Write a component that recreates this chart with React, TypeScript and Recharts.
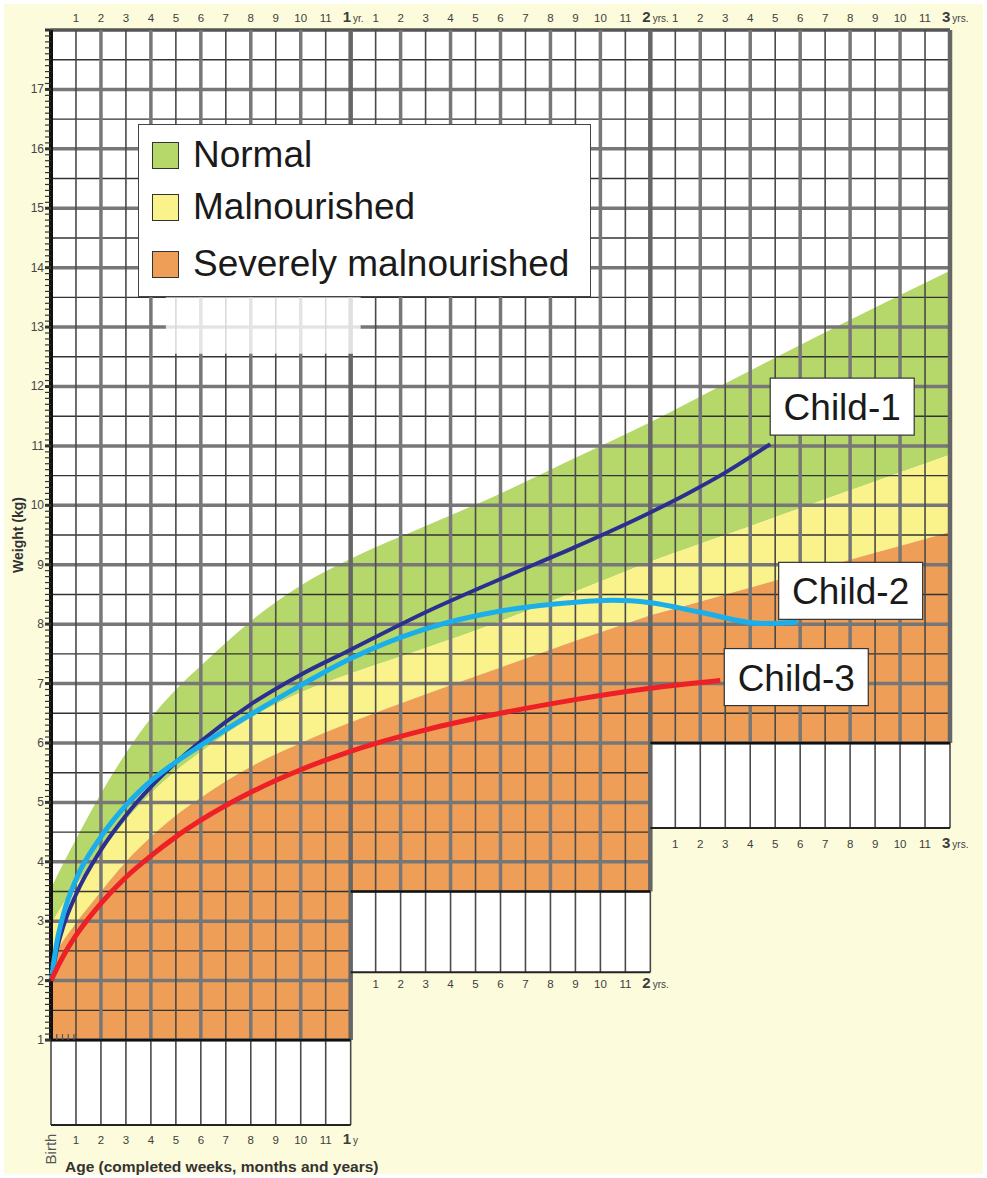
import React from "react";
import {
  ComposedChart,
  Area,
  Line,
  Scatter,
  XAxis,
  YAxis,
  ReferenceLine,
  ReferenceArea,
  Legend,
} from "recharts";

const W = 987;
const H = 1178;
const FONT = "'Liberation Sans', Arial, Helvetica, sans-serif";
const CREAM = "#fcfbdc";
const GREEN = "#b6d86a";
const YELLOW = "#faf28a";
const ORANGE = "#ee9e57";

const BAND_MONTHS = [0, 0.5, 1, 2, 3, 4, 5, 6, 8, 10, 12, 15, 18, 21, 24, 27, 30, 33, 36];
const NORMAL_UPPER = [3.55, 3.98, 4.38, 5.15, 5.83, 6.42, 6.9, 7.3, 8.05, 8.65, 9.1, 9.65, 10.2, 10.8, 11.4, 12.05, 12.7, 13.33, 13.95];
const NORMAL_LOWER = [2.95, 3.3, 3.6, 4.15, 4.7, 5.15, 5.53, 5.85, 6.42, 6.85, 7.17, 7.6, 8.05, 8.55, 9.05, 9.5, 9.95, 10.4, 10.85];
const MAL_LOWER = [2.35, 2.68, 2.97, 3.5, 4.0, 4.42, 4.78, 5.08, 5.6, 6.0, 6.35, 6.82, 7.27, 7.72, 8.15, 8.5, 8.85, 9.2, 9.55];

// the three children plotted on the card
const CHILD1_MONTHS = [0, 0.25, 0.5, 1, 2, 3, 4, 5, 6, 8, 10, 12, 15, 18, 21, 24, 25.5, 27, 28.8];
const CHILD1_KG = [2.0, 2.55, 2.92, 3.45, 4.2, 4.78, 5.26, 5.67, 6.03, 6.65, 7.15, 7.57, 8.2, 8.76, 9.3, 9.88, 10.2, 10.55, 11.03];
const CHILD2_MONTHS = [0, 0.25, 0.5, 1, 2, 3, 4, 5, 6, 8, 10, 12, 15, 18, 21, 22.5, 24, 26, 28.5, 29.9];
const CHILD2_KG = [2.0, 2.68, 3.12, 3.7, 4.42, 4.95, 5.36, 5.68, 5.96, 6.48, 6.97, 7.42, 7.92, 8.22, 8.37, 8.4, 8.36, 8.2, 8.01, 8.03];
const CHILD3_MONTHS = [0, 0.25, 0.5, 1, 2, 3, 4, 5, 6, 8, 10, 12, 15, 18, 21, 24, 26.8];
const CHILD3_KG = [2.0, 2.22, 2.42, 2.76, 3.3, 3.74, 4.1, 4.42, 4.7, 5.17, 5.55, 5.86, 6.22, 6.5, 6.73, 6.92, 7.05];

const CHILD_NAMES = ["Child-1", "Child-2", "Child-3"];
const CHILD_COLORS = ["#2b2f8f", "#1aaeea", "#ed1f27"];
const CHILD_WIDTHS = [4, 5, 5];
// where each name tag sits relative to the end of its line (px)
const CHILD_TAG_OFFSET = [[0, -66], [-19, -60], [4, -32]];

const LEGEND_LABELS = ["Normal", "Malnourished", "Severely malnourished"];
const LEGEND_COLORS = [GREEN, YELLOW, ORANGE];
const LEGEND_ROW_CENTER = [30, 82, 139];

// the card steps up one block per year of age
const YEAR_START = [0, 12, 24];
const YEAR_END = [12, 24, 36];
const GRID_FLOOR = [1, 3.5, 6];
const BOX_FLOOR = [-0.43, 2.14, 4.57];
const BOX_LABEL_KG = [0, 1.94, 4.3];

const Y_MIN = -0.43;
const Y_MAX = 18;

const TOP_TICKS = Array.from({ length: 36 }, (_, i) => i + 1);
const BOTTOM_TICKS = Array.from({ length: 13 }, (_, i) => i);
const LEFT_TICKS = Array.from({ length: 171 }, (_, i) => Math.round((1 + i * 0.1) * 10) / 10);
const RIGHT_TICKS = [6, 7, 8, 9, 10, 11, 12, 13, 14, 15, 16, 17];
const HALF_KG = Array.from({ length: 35 }, (_, i) => 1 + i * 0.5);
const WEEK_MARKS = [1, 2, 3, 4];

const pair = (ms: number[], ks: number[]) => ms.map((m, i) => ({ m, w: ks[i] }));
const CHILD_DATA = [pair(CHILD1_MONTHS, CHILD1_KG), pair(CHILD2_MONTHS, CHILD2_KG), pair(CHILD3_MONTHS, CHILD3_KG)];

function AgeText({ x, y, m, year }: { x: number; y: number; m: number; year?: string }) {
  if (m % 12 === 0) {
    return (
      <text x={x - 8} y={y} fontFamily={FONT} fill="#3d3d3d">
        <tspan fontSize={15} fontWeight={700}>{m / 12}</tspan>
        <tspan fontSize={10} dx={2}>{year}</tspan>
      </text>
    );
  }
  return (
    <text x={x} y={y} textAnchor="middle" fontSize={11.5} fill="#3d3d3d" fontFamily={FONT}>
      {m % 12}
    </text>
  );
}

function TopTick({ x, y, payload }: any) {
  const m = payload.value;
  return <AgeText x={x} y={y - 8} m={m} year={m === 12 ? "yr." : "yrs."} />;
}

function BottomTick({ x, y, payload }: any) {
  const m = payload.value;
  if (m === 0) {
    return (
      <text x={x + 5} y={y + 24} transform={`rotate(-90 ${x + 5} ${y + 24})`} textAnchor="middle"
        fontSize={15} fill="#555" fontFamily={FONT}>
        Birth
      </text>
    );
  }
  return <AgeText x={x} y={y + 19} m={m} year="y" />;
}

function LeftTick({ x, y, payload }: any) {
  const v = payload.value;
  const whole = Math.abs(v - Math.round(v)) < 1e-6;
  return (
    <g>
      <line x1={x - 6} x2={x} y1={y} y2={y} stroke="#333" strokeWidth={whole ? 3 : 1.2} />
      {whole && v < 18 && (
        <text x={x - 7} y={y + 4} textAnchor="end" fontSize={12} fill="#444" fontFamily={FONT}>
          {Math.round(v)}
        </text>
      )}
    </g>
  );
}

function RightTick({ x, y, payload }: any) {
  return (
    <text x={x + 6} y={y + 4} fontSize={12} fill="#444" fontFamily={FONT}>
      {payload.value}
    </text>
  );
}

function AgeLabel({ viewBox }: any) {
  return (
    <text x={viewBox.x + 14} y={viewBox.y + 47} fontSize={15.5} fontWeight={700} fill="#333" fontFamily={FONT}>
      Age (completed weeks, months and years)
    </text>
  );
}

function WeightLabel() {
  return (
    <text x={23} y={535} transform="rotate(-90 23 535)" textAnchor="middle" fontSize={14}
      fontWeight={700} fill="#333" fontFamily={FONT}>
      Weight (kg)
    </text>
  );
}

function BoxLabel({ cx, cy, payload }: any) {
  return <AgeText x={cx} y={cy + 4} m={payload.m} year="yrs." />;
}

function ChildTag({ cx, cy, payload }: any) {
  const [dx, dy] = CHILD_TAG_OFFSET[payload.idx];
  const left = cx + dx;
  const top = cy + dy;
  return (
    <g>
      <rect x={left} y={top} width={144} height={57} fill="#fff" stroke="#333" strokeWidth={1.2} />
      <text x={left + 72} y={top + 42} textAnchor="middle" fontSize={37} fill="#1a1a1a" fontFamily={FONT}>
        {payload.name}
      </text>
    </g>
  );
}

function LegendBox() {
  return (
    <div style={{ position: "relative", width: 453, height: 173, boxSizing: "border-box", background: "#fff",
      border: "1px solid #444", fontFamily: FONT }}>
      {LEGEND_LABELS.map((label, i) => (
        <div key={label} style={{ position: "absolute", left: 13, top: LEGEND_ROW_CENTER[i] - 20, height: 40,
          display: "flex", alignItems: "center" }}>
          <span style={{ display: "inline-block", width: 27, height: 27, background: LEGEND_COLORS[i],
            border: "1px solid #333", boxSizing: "border-box" }} />
          <span style={{ marginLeft: 14, fontSize: 37, lineHeight: "40px", color: "#1a1a1a" }}>{label}</span>
        </div>
      ))}
    </div>
  );
}

export default function App() {
  const bandData = BAND_MONTHS.map((m, i) => ({
    m,
    normal: [NORMAL_LOWER[i], NORMAL_UPPER[i]],
    mal: [MAL_LOWER[i], NORMAL_LOWER[i]],
  }));
  const severeData = YEAR_START.map((s, k) =>
    BAND_MONTHS.map((m, i) => ({ m, severe: MAL_LOWER[i] })).filter((d) => d.m >= s && d.m <= YEAR_END[k])
  );
  const boxLabels = [1, 2].flatMap((k) =>
    TOP_TICKS.filter((m) => m > YEAR_START[k] && m <= YEAR_END[k]).map((m) => ({ m, w: BOX_LABEL_KG[k] }))
  );
  const tags = CHILD_DATA.map((d, i) => ({ ...d[d.length - 1], name: CHILD_NAMES[i], idx: i }));

  // grid: vertical month lines (grid part + blank-box part), horizontal half-kg lines
  const section = (m: number) => (m === 0 ? 0 : Math.ceil(m / 12) - 1);
  const vGrid = Array.from({ length: 37 }, (_, m) => m);
  const gridStroke = (m: number) =>
    m === 0 ? ["#111", 4] : m % 12 === 0 ? ["#666", 4.5] : m % 2 === 0 ? ["#777", 3.5] : ["#4a4a4a", 1.6];
  const hEnd = (w: number) => (w >= 6 ? 36 : w >= 3.5 ? 24 : 12);

  return (
    <div style={{ position: "absolute", left: 0, top: 0, width: W, height: H, background: "#fff" }}>
      <div style={{ position: "absolute", left: 4, top: 4, right: 4, bottom: 4, background: CREAM }} />
      <div style={{ position: "absolute", left: 0, top: 0 }}>
        <ComposedChart width={W} height={H} data={bandData} margin={{ top: 10, right: 7, bottom: 8, left: 6 }}>
          <XAxis dataKey="m" type="number" domain={[0, 36]} ticks={BOTTOM_TICKS} interval={0} height={45}
            axisLine={false} tickLine={false} tickSize={0} tickMargin={0} tick={<BottomTick />}
            label={AgeLabel} />
          <XAxis xAxisId="top" orientation="top" dataKey="m" type="number" domain={[0, 36]} ticks={TOP_TICKS}
            interval={0} height={20} axisLine={false} tickLine={false} tickSize={0} tickMargin={0}
            tick={<TopTick />} />
          <YAxis type="number" domain={[Y_MIN, Y_MAX]} ticks={LEFT_TICKS} interval={0} width={45}
            axisLine={false} tickLine={false} tickSize={0} tickMargin={0} tick={<LeftTick />}
            label={WeightLabel} />
          <YAxis yAxisId="right" orientation="right" type="number" domain={[Y_MIN, Y_MAX]} ticks={RIGHT_TICKS}
            interval={0} width={30} axisLine={false} tickLine={false} tickSize={0} tickMargin={0}
            tick={<RightTick />} />

          {YEAR_START.map((s, k) => (
            <ReferenceArea key={`bg${k}`} x1={s} x2={YEAR_END[k]} y1={BOX_FLOOR[k]} y2={Y_MAX} fill="#fff"
              fillOpacity={1} stroke="none" ifOverflow="visible" zIndex={-200} />
          ))}

          <Area dataKey="normal" type="monotone" fill={GREEN} fillOpacity={1} stroke="none"
            isAnimationActive={false} name="Normal" />
          <Area dataKey="mal" type="monotone" fill={YELLOW} fillOpacity={1} stroke="none"
            isAnimationActive={false} name="Malnourished" />
          {severeData.map((d, k) => (
            <Area key={`sev${k}`} data={d} dataKey="severe" baseValue={GRID_FLOOR[k]} type="monotone"
              fill={ORANGE} fillOpacity={1} stroke="none" isAnimationActive={false} name="Severely malnourished" />
          ))}

          {HALF_KG.map((w) => {
            const whole = w % 1 === 0;
            return (
              <ReferenceLine key={`h${w}`} segment={[{ x: 0, y: w }, { x: hEnd(w), y: w }]}
                stroke={w === 18 ? "#555" : whole ? "#777" : "#333"} strokeWidth={whole ? 3.5 : 1.4}
                ifOverflow="visible" zIndex={150} />
            );
          })}
          {vGrid.map((m) => {
            const k = section(m);
            const [c, sw] = gridStroke(m);
            return (
              <React.Fragment key={`v${m}`}>
                <ReferenceLine segment={[{ x: m, y: GRID_FLOOR[k] }, { x: m, y: Y_MAX }]} stroke={c as string}
                  strokeWidth={sw as number} ifOverflow="visible" zIndex={150} />
                <ReferenceLine segment={[{ x: m, y: BOX_FLOOR[k] }, { x: m, y: GRID_FLOOR[k] }]} stroke="#4a4a4a"
                  strokeWidth={1.6} ifOverflow="visible" zIndex={150} />
              </React.Fragment>
            );
          })}
          {YEAR_START.map((s, k) => (
            <React.Fragment key={`floor${k}`}>
              <ReferenceLine segment={[{ x: s, y: GRID_FLOOR[k] }, { x: YEAR_END[k], y: GRID_FLOOR[k] }]}
                stroke="#111" strokeWidth={2.5} ifOverflow="visible" zIndex={150} />
              <ReferenceLine segment={[{ x: s, y: BOX_FLOOR[k] }, { x: YEAR_END[k], y: BOX_FLOOR[k] }]}
                stroke="#222" strokeWidth={2} ifOverflow="visible" zIndex={150} />
            </React.Fragment>
          ))}
          {WEEK_MARKS.map((wk) => (
            <ReferenceLine key={`wk${wk}`} segment={[{ x: (wk * 7) / 30.4, y: 1 }, { x: (wk * 7) / 30.4, y: 1.1 }]}
              stroke="#555" strokeWidth={1.2} ifOverflow="visible" zIndex={150} />
          ))}
          <ReferenceArea x1={4.6} x2={12.4} y1={12.55} y2={13.5} fill="#fff" fillOpacity={0.8} stroke="none"
            ifOverflow="visible" zIndex={160} />

          {CHILD_DATA.map((d, i) => (
            <Line key={CHILD_NAMES[i]} data={d} dataKey="w" type="monotone" stroke={CHILD_COLORS[i]}
              strokeWidth={CHILD_WIDTHS[i]} dot={false} activeDot={false} isAnimationActive={false}
              name={CHILD_NAMES[i]} legendType="none" />
          ))}

          <Scatter data={boxLabels} dataKey="w" shape={BoxLabel} isAnimationActive={false} legendType="none" />
          <Scatter data={tags} dataKey="w" shape={ChildTag} isAnimationActive={false} legendType="none" />

          <Legend layout="horizontal" verticalAlign="middle" align="center" content={LegendBox}
            wrapperStyle={{ left: 138, top: 124, width: 453, height: 173 }} />
        </ComposedChart>
      </div>
    </div>
  );
}
